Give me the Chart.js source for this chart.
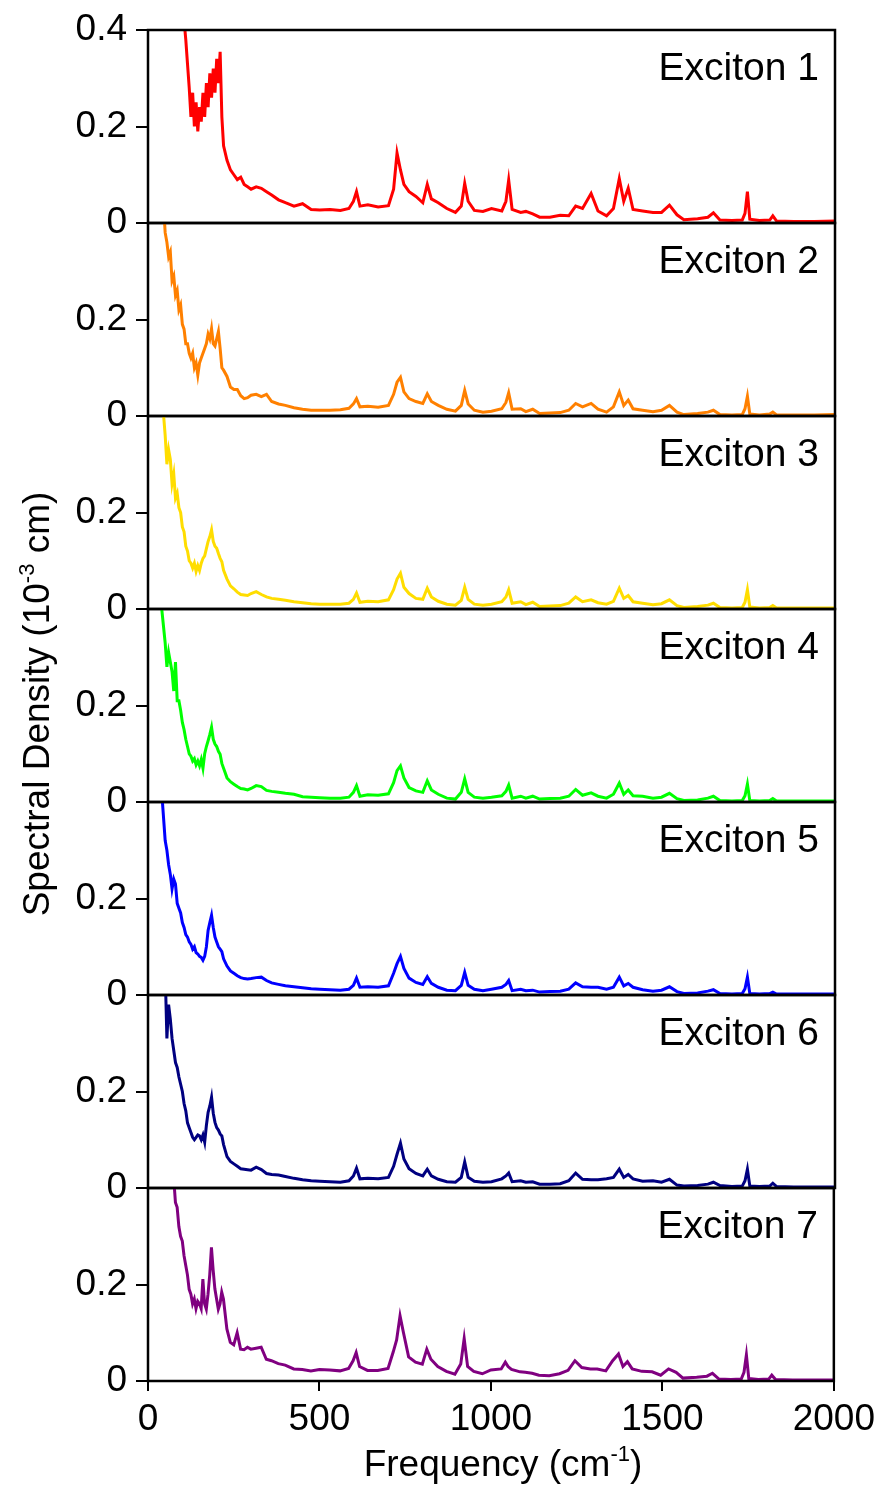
<!DOCTYPE html>
<html>
<head>
<meta charset="utf-8">
<script src="https://cdn.jsdelivr.net/npm/chart.js"></script>
<style>
  body { margin: 0; background: #fff; }
  #wrap { position: relative; width: 882px; height: 1488px; overflow: hidden; font-family: "Liberation Sans", Arial, sans-serif; }
  canvas { position: absolute; left: 0; }
  .titulo { position: absolute; font-size: 37px; color: #000; white-space: nowrap; text-align: center; line-height: 44px; height: 44px; z-index: 2; }
  .sup { font-size: 22px; position: relative; top: -15px; }
</style>
</head>
<body>
<div id="wrap">
  <div class="titulo" style="left:-263px; top:682px; width:600px; transform:rotate(-90deg);">Spectral Density (10<span class="sup">-3</span> cm)</div>
  <div class="titulo" style="left:253px; top:1442px; width:500px;">Frequency (cm<span class="sup">-1</span>)</div>
</div>
<script>
// frequências (cm-1) comuns a todas as curvas
const frequencias = [
  40, 50, 55, 60, 65, 70, 75, 80, 85, 90,
  95, 100, 105, 110, 115, 120, 125, 130, 135, 140,
  145, 150, 155, 160, 165, 170, 175, 180, 185, 190,
  195, 200, 205, 210, 215, 220, 230, 240, 250, 260,
  270, 280, 290, 300, 315, 330, 345, 360, 380, 400,
  425, 450, 475, 500, 530, 560, 585, 598, 607, 617,
  640, 670, 700, 715, 725, 735, 745, 760, 780, 800,
  813, 825, 845, 870, 895, 912, 922, 932, 950, 975,
  1000, 1030, 1042, 1050, 1060, 1085, 1100, 1120, 1140, 1170,
  1200, 1225, 1245, 1265, 1290, 1310, 1335, 1355, 1372, 1385,
  1398, 1412, 1440, 1470, 1495, 1518, 1540, 1560, 1600, 1630,
  1646, 1665, 1700, 1730, 1738, 1745, 1752, 1780, 1810, 1819,
  1830, 1880, 1940, 2000
]

const exciton1 = [
  0.75, 0.7, 0.66, 0.62, 0.6, 0.56, 0.54, 0.52, 0.5, 0.47,
  0.45, 0.43, 0.42, 0.38, 0.33, 0.28, 0.22, 0.27, 0.2, 0.25,
  0.19, 0.24, 0.21, 0.27, 0.22, 0.29, 0.24, 0.31, 0.26, 0.32,
  0.27, 0.34, 0.29, 0.355, 0.22, 0.16, 0.13, 0.11, 0.1, 0.09,
  0.095, 0.08, 0.075, 0.07, 0.075, 0.072, 0.065, 0.058, 0.048, 0.042,
  0.035, 0.04, 0.028, 0.027, 0.028, 0.026, 0.03, 0.045, 0.065, 0.035,
  0.038, 0.033, 0.036, 0.07, 0.145, 0.11, 0.08, 0.065, 0.055, 0.042,
  0.08, 0.05, 0.042, 0.03, 0.022, 0.035, 0.082, 0.045, 0.026, 0.024,
  0.03, 0.025, 0.045, 0.089, 0.028, 0.022, 0.024, 0.019, 0.012, 0.012,
  0.016, 0.015, 0.035, 0.03, 0.061, 0.025, 0.015, 0.03, 0.092, 0.045,
  0.072, 0.028, 0.025, 0.022, 0.022, 0.037, 0.017, 0.007, 0.009, 0.012,
  0.021, 0.006, 0.005, 0.006, 0.02, 0.065, 0.008, 0.005, 0.006, 0.015,
  0.004, 0.003, 0.003, 0.004
]
const exciton2 = [
  0.5, 0.38, 0.36, 0.33, 0.34, 0.28, 0.29, 0.25, 0.26, 0.22,
  0.23, 0.19, 0.18, 0.15, 0.15, 0.13, 0.12, 0.13, 0.1, 0.11,
  0.085, 0.11, 0.12, 0.13, 0.14, 0.15, 0.17, 0.16, 0.181, 0.15,
  0.145, 0.16, 0.175, 0.14, 0.1, 0.095, 0.082, 0.06, 0.055, 0.055,
  0.042, 0.036, 0.038, 0.043, 0.045, 0.04, 0.045, 0.03, 0.025, 0.022,
  0.017, 0.014, 0.012, 0.012, 0.012, 0.013, 0.016, 0.025, 0.036, 0.019,
  0.02, 0.018, 0.022, 0.045, 0.07, 0.08, 0.05, 0.036, 0.03, 0.026,
  0.046, 0.03, 0.022, 0.014, 0.01, 0.022, 0.053, 0.025, 0.012, 0.008,
  0.01, 0.015, 0.028, 0.048, 0.014, 0.015, 0.009, 0.014, 0.005, 0.006,
  0.007, 0.012, 0.026, 0.019, 0.026, 0.014, 0.008, 0.019, 0.05, 0.022,
  0.033, 0.015, 0.012, 0.009, 0.012, 0.022, 0.008, 0.003, 0.005, 0.008,
  0.012, 0.003, 0.002, 0.003, 0.015, 0.041, 0.004, 0.002, 0.004, 0.008,
  0.002, 0.002, 0.002, 0.003
]
const exciton3 = [
  0.45, 0.36, 0.3, 0.33, 0.31, 0.26, 0.28, 0.23, 0.24, 0.21,
  0.2, 0.17, 0.16, 0.13, 0.12, 0.1, 0.095, 0.085, 0.095, 0.078,
  0.09, 0.08, 0.095, 0.105, 0.11, 0.125, 0.14, 0.15, 0.164, 0.14,
  0.13, 0.126, 0.115, 0.105, 0.098, 0.08, 0.062, 0.048, 0.042, 0.035,
  0.03, 0.029, 0.028, 0.032, 0.036, 0.03, 0.025, 0.022, 0.02, 0.018,
  0.015, 0.013, 0.011, 0.01, 0.01, 0.01, 0.012, 0.02, 0.033, 0.014,
  0.016, 0.015, 0.019, 0.04, 0.062, 0.074, 0.045, 0.032, 0.022, 0.02,
  0.043, 0.025, 0.016, 0.01, 0.008, 0.018, 0.045, 0.02, 0.01, 0.008,
  0.01, 0.015, 0.025, 0.04, 0.012, 0.015, 0.009, 0.014, 0.005, 0.006,
  0.007, 0.012, 0.025, 0.015, 0.019, 0.013, 0.01, 0.016, 0.043, 0.022,
  0.028, 0.015, 0.012, 0.009, 0.011, 0.019, 0.007, 0.003, 0.005, 0.008,
  0.012, 0.003, 0.002, 0.003, 0.014, 0.04, 0.004, 0.002, 0.003, 0.007,
  0.002, 0.002, 0.002, 0.002
]
const exciton4 = [
  0.4, 0.33, 0.28, 0.31, 0.29, 0.27, 0.23, 0.29, 0.21, 0.21,
  0.19, 0.165, 0.15, 0.13, 0.115, 0.1, 0.095, 0.085, 0.09, 0.077,
  0.085, 0.075, 0.088, 0.07, 0.1, 0.115, 0.127, 0.14, 0.155, 0.13,
  0.12, 0.115, 0.105, 0.099, 0.08, 0.07, 0.05, 0.042, 0.037, 0.032,
  0.028, 0.027, 0.025, 0.028, 0.034, 0.032, 0.024, 0.022, 0.02, 0.018,
  0.016, 0.011, 0.01, 0.009, 0.008, 0.008, 0.01, 0.02, 0.034, 0.012,
  0.015, 0.014, 0.017, 0.04, 0.065, 0.075, 0.05, 0.03, 0.023, 0.02,
  0.044, 0.025, 0.016, 0.008, 0.006, 0.02, 0.048, 0.02, 0.01, 0.008,
  0.01, 0.013, 0.022, 0.035, 0.008, 0.012, 0.008, 0.012, 0.006, 0.007,
  0.008, 0.012, 0.026, 0.014, 0.019, 0.012, 0.008, 0.016, 0.039, 0.016,
  0.025, 0.013, 0.012, 0.008, 0.01, 0.018, 0.007, 0.003, 0.004, 0.008,
  0.012, 0.003, 0.002, 0.003, 0.013, 0.037, 0.003, 0.002, 0.003, 0.007,
  0.002, 0.002, 0.002, 0.002
]
const exciton5 = [
  0.42, 0.32, 0.3, 0.27, 0.25, 0.22, 0.24, 0.23, 0.19, 0.18,
  0.17, 0.15, 0.14, 0.125, 0.12, 0.11, 0.105, 0.095, 0.1, 0.088,
  0.085, 0.08, 0.078, 0.072, 0.08, 0.1, 0.134, 0.15, 0.165, 0.14,
  0.12, 0.11, 0.1, 0.095, 0.09, 0.075, 0.06, 0.05, 0.045, 0.04,
  0.036, 0.034, 0.033, 0.034, 0.036, 0.037, 0.03, 0.025, 0.022, 0.019,
  0.017, 0.015, 0.013, 0.012, 0.011, 0.01, 0.012, 0.02, 0.035, 0.016,
  0.017, 0.016, 0.019, 0.045, 0.065, 0.08, 0.055, 0.035, 0.026, 0.022,
  0.038, 0.024, 0.016, 0.01, 0.009, 0.02, 0.047, 0.02, 0.012, 0.009,
  0.012, 0.016, 0.022, 0.03, 0.009, 0.012, 0.009, 0.01, 0.006, 0.007,
  0.008, 0.012, 0.025, 0.017, 0.016, 0.016, 0.012, 0.016, 0.037, 0.019,
  0.024, 0.016, 0.011, 0.008, 0.01, 0.017, 0.007, 0.003, 0.004, 0.008,
  0.011, 0.003, 0.002, 0.003, 0.013, 0.037, 0.003, 0.002, 0.003, 0.006,
  0.002, 0.002, 0.002, 0.002
]
const exciton6 = [
  0.5, 0.45, 0.31, 0.38, 0.35, 0.31, 0.285, 0.26, 0.25, 0.23,
  0.215, 0.2, 0.175, 0.16, 0.135, 0.125, 0.115, 0.105, 0.1, 0.105,
  0.11, 0.108, 0.1, 0.11, 0.095, 0.13, 0.157, 0.17, 0.188, 0.155,
  0.136, 0.125, 0.12, 0.112, 0.108, 0.09, 0.065, 0.055, 0.05, 0.045,
  0.04, 0.039, 0.038, 0.037, 0.043, 0.038, 0.03, 0.028, 0.027, 0.024,
  0.02, 0.017, 0.015, 0.014, 0.013, 0.012, 0.015, 0.025, 0.041, 0.019,
  0.02, 0.019, 0.022, 0.045, 0.07, 0.093, 0.06, 0.04, 0.03, 0.025,
  0.039, 0.025, 0.018, 0.013, 0.012, 0.022, 0.054, 0.022, 0.014, 0.012,
  0.013, 0.019, 0.025, 0.031, 0.013, 0.015, 0.012, 0.013, 0.008, 0.008,
  0.009, 0.015, 0.031, 0.018, 0.017, 0.017, 0.019, 0.022, 0.039, 0.022,
  0.028, 0.019, 0.014, 0.015, 0.012, 0.018, 0.006, 0.004, 0.005, 0.008,
  0.012, 0.005, 0.003, 0.004, 0.015, 0.039, 0.004, 0.003, 0.004, 0.01,
  0.003, 0.002, 0.002, 0.002
]
const exciton7 = [
  0.9, 0.8, 0.7, 0.62, 0.55, 0.47, 0.42, 0.37, 0.36, 0.32,
  0.3, 0.29, 0.26, 0.24, 0.22, 0.19, 0.18, 0.16, 0.17, 0.15,
  0.165, 0.16, 0.15, 0.211, 0.16, 0.149, 0.18, 0.22, 0.277, 0.23,
  0.191, 0.17, 0.149, 0.16, 0.184, 0.17, 0.108, 0.08, 0.075, 0.1,
  0.066, 0.065, 0.07, 0.066, 0.068, 0.07, 0.045, 0.042, 0.036, 0.033,
  0.025, 0.024, 0.021, 0.024, 0.023, 0.021, 0.026, 0.042, 0.059, 0.03,
  0.022, 0.022, 0.026, 0.06, 0.085, 0.135, 0.1, 0.05, 0.039, 0.035,
  0.066, 0.045, 0.03, 0.02, 0.014, 0.035, 0.088, 0.03, 0.02, 0.015,
  0.023, 0.025, 0.039, 0.03, 0.024, 0.019, 0.018, 0.016, 0.012, 0.011,
  0.015, 0.022, 0.042, 0.028, 0.025, 0.025, 0.021, 0.042, 0.056, 0.03,
  0.04, 0.025, 0.02, 0.019, 0.012, 0.025, 0.018, 0.006, 0.008, 0.01,
  0.016, 0.004, 0.003, 0.004, 0.018, 0.054, 0.005, 0.003, 0.004, 0.012,
  0.003, 0.002, 0.002, 0.002
]

const nomes = ['Exciton 1', 'Exciton 2', 'Exciton 3', 'Exciton 4', 'Exciton 5', 'Exciton 6', 'Exciton 7']
const ticksX = [0, 500, 1000, 1500, 2000]
const ticksY = [0, 0.2, 0.4]

const series = [exciton1, exciton2, exciton3, exciton4, exciton5, exciton6, exciton7]
const cores = ['#ff0000', '#ff8000', '#ffdd00', '#00ff00', '#0000ff', '#000080', '#800080']
const fonte = '"Liberation Sans", Arial, sans-serif'

// geometria dos painéis
const topoPainel = 30
const alturaPainel = 193
const folga = 40
const alturaEixoX = 75

// moldura preta + nome do exciton
let moldura = {
  id: 'moldura',
  afterDatasetsDraw(chart, args, opts) {
    const a = chart.chartArea
    const c = chart.ctx
    c.save()
    c.strokeStyle = '#000'
    c.lineWidth = 2.5
    c.strokeRect(a.left, a.top, a.right - a.left, a.bottom - a.top)
    c.font = '39px ' + fonte
    c.fillStyle = '#000'
    c.textAlign = 'right'
    c.textBaseline = 'alphabetic'
    c.fillText(opts.texto, a.right - 16, a.top + 50)
    c.restore()
  }
}

let wrap = document.getElementById('wrap')

series.forEach((valores, i) => {
  const ultimo = i === series.length - 1
  const altura = folga + alturaPainel + (ultimo ? alturaEixoX : folga)
  const canvas = document.createElement('canvas')
  canvas.width = 882
  canvas.height = altura
  canvas.style.width = '882px'
  canvas.style.height = altura + 'px'
  canvas.style.top = (topoPainel + i * alturaPainel - folga) + 'px'
  wrap.appendChild(canvas)

  new Chart(canvas, {
    type: 'line',
    data: {
      datasets: [{
        data: frequencias.map((f, k) => ({ x: f, y: valores[k] })),
        borderColor: cores[i],
        borderWidth: 3,
        pointRadius: 0,
        tension: 0,
        fill: false
      }]
    },
    options: {
      responsive: false,
      animation: false,
      devicePixelRatio: 1,
      layout: { padding: { top: folga, bottom: ultimo ? 0 : folga, left: 0, right: 47 } },
      plugins: {
        legend: { display: false },
        tooltip: { enabled: false },
        moldura: { texto: nomes[i] }
      },
      scales: {
        x: {
          type: 'linear',
          min: 0,
          max: 2000,
          display: ultimo,
          afterBuildTicks: s => { s.ticks = ticksX.map(v => ({ value: v })) },
          afterFit: s => { if (ultimo) s.height = alturaEixoX },
          ticks: { color: '#000', font: { size: 37, family: fonte }, padding: 7, maxRotation: 0, autoSkip: false, callback: v => String(v) },
          grid: { drawOnChartArea: false, drawTicks: true, tickLength: 10, color: '#000', lineWidth: 2 },
          border: { display: false }
        },
        y: {
          min: 0,
          max: 0.4,
          afterBuildTicks: s => { s.ticks = ticksY.map(v => ({ value: v })) },
          afterFit: s => { s.width = 148 },
          ticks: { color: '#000', font: { size: 37, family: fonte }, padding: 9, callback: v => (i > 0 && v === 0.4) ? '' : String(v) },
          grid: { drawOnChartArea: false, drawTicks: true, tickLength: 12, color: '#000', lineWidth: 2 },
          border: { display: false }
        }
      }
    },
    plugins: [moldura]
  })
})
</script>
</body>
</html>
